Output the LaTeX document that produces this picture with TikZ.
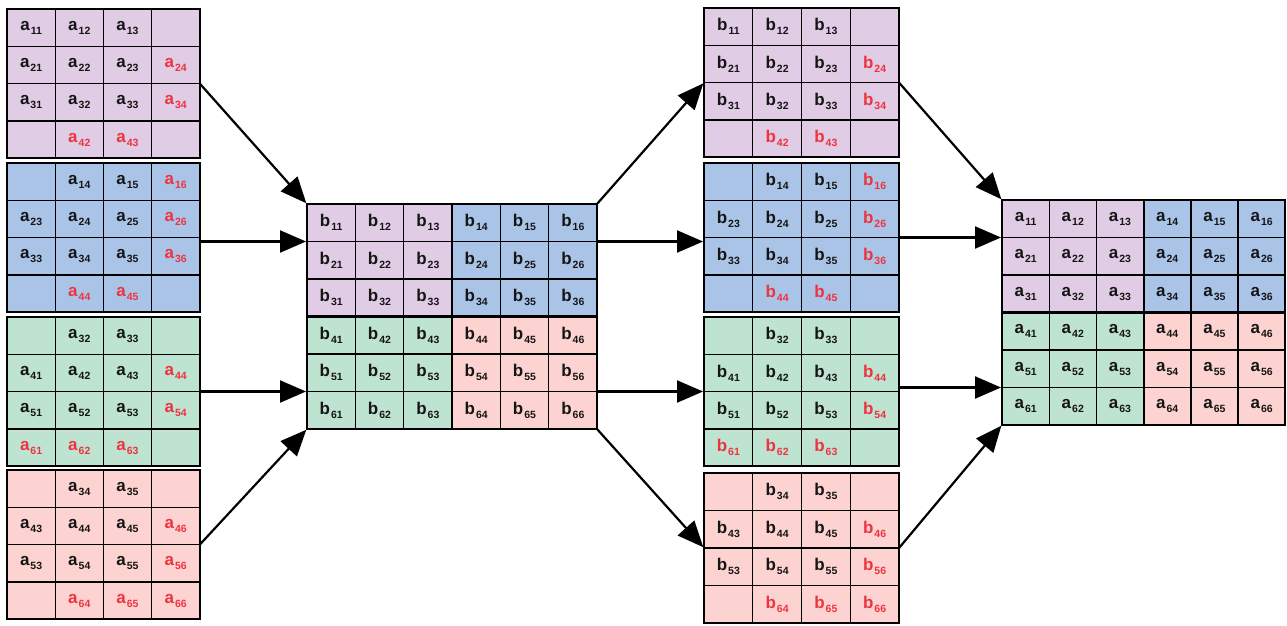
\documentclass[tikz,border=0pt]{standalone}
\usepackage{fontspec}
\setmainfont{Liberation Sans}
\usetikzlibrary{arrows.meta}
\definecolor{cP}{HTML}{E0CCE4}
\definecolor{cB}{HTML}{AAC4E8}
\definecolor{cG}{HTML}{BEE3D0}
\definecolor{cR}{HTML}{FDD3D1}
\definecolor{k}{HTML}{151515}
\definecolor{r}{HTML}{EE3340}
\def\myempt{e}
\newcommand\mylab[3]{\edef\tmpc{#1}\ifx\tmpc\myempt\else\textcolor{#1}{\fontsize{17}{17}\selectfont\bfseries #2\hspace{1pt}\raisebox{-4pt}{\fontsize{10.5}{10.5}\selectfont #3}}\fi}
\tikzset{
  cell/.style={draw=black, line width=1.4pt, inner sep=0pt, outer sep=0pt, anchor=north west},
  frame/.style={draw=black, line width=2.2pt},
  arr/.style={line width=2.2pt, -{Triangle[length=26pt,width=22pt]}, shorten >=1pt}
}
% name, x0, y0, w, h, fill, list
\newcommand\smallgrid[7]{%
  \foreach \t/\l/\s [count=\i from 0] in {#7} {%
    \pgfmathtruncatemacro\r{floor(\i/4)}%
    \pgfmathtruncatemacro\c{\i-4*\r}%
    \node[cell, fill=#6, minimum width=#4pt, minimum height=#5pt] (#1-\r-\c) at ({#2+\c*#4},{#3+\r*#5}) {\mylab{\t}{\l}{\s}};
  }
  \draw[frame] (#1-0-0.north west) rectangle (#1-3-3.south east);
}
% name, x0, y0, w, h, letter
\newcommand\biggrid[6]{%
  \foreach \r in {0,...,5} {\foreach \c in {0,...,5} {%
    \ifnum\r<3 \ifnum\c<3 \def\ff{cP}\else\def\ff{cB}\fi\else\ifnum\c<3 \def\ff{cG}\else\def\ff{cR}\fi\fi
    \pgfmathtruncatemacro\rr{\r+1}%
    \pgfmathtruncatemacro\cc{\c+1}%
    \node[cell, fill=\ff, minimum width=#4pt, minimum height=#5pt] (#1-\r-\c) at ({#2+\c*#4},{#3+\r*#5}) {\mylab{k}{#6}{\rr\cc}};
  }}
  \draw[frame] (#1-0-0.north west) rectangle (#1-5-5.south east);
  \draw[frame] (#1-0-2.north east) -- (#1-5-2.south east);
  \draw[frame] (#1-2-0.south west) -- (#1-2-5.south east);
}
\begin{document}
\begin{tikzpicture}[x=1pt,y=-1pt]
\fill[white] (0,0) rectangle (1287,626);
\useasboundingbox (0,0) rectangle (1287,626);
% left column
\smallgrid{L1}{7}{9}{48.2}{37.3}{cP}{k/a/11,k/a/12,k/a/13,e/a/0, k/a/21,k/a/22,k/a/23,r/a/24, k/a/31,k/a/32,k/a/33,r/a/34, e/a/0,r/a/42,r/a/43,e/a/0}
\smallgrid{L2}{7}{163}{48.2}{37.3}{cB}{e/a/0,k/a/14,k/a/15,r/a/16, k/a/23,k/a/24,k/a/25,r/a/26, k/a/33,k/a/34,k/a/35,r/a/36, e/a/0,r/a/44,r/a/45,e/a/0}
\smallgrid{L3}{7}{317}{48.2}{37.3}{cG}{e/a/0,k/a/32,k/a/33,e/a/0, k/a/41,k/a/42,k/a/43,r/a/44, k/a/51,k/a/52,k/a/53,r/a/54, r/a/61,r/a/62,r/a/63,e/a/0}
\smallgrid{L4}{7}{470}{48.2}{37.3}{cR}{e/a/0,k/a/34,k/a/35,e/a/0, k/a/43,k/a/44,k/a/45,r/a/46, k/a/53,k/a/54,k/a/55,r/a/56, e/a/0,r/a/64,r/a/65,r/a/66}
% middle
\biggrid{M}{307}{204}{48.33}{37.5}{b}
% right-middle column
\smallgrid{R1}{704}{8}{48.75}{37.3}{cP}{k/b/11,k/b/12,k/b/13,e/b/0, k/b/21,k/b/22,k/b/23,r/b/24, k/b/31,k/b/32,k/b/33,r/b/34, e/b/0,r/b/42,r/b/43,e/b/0}
\smallgrid{R2}{704}{163}{48.75}{37.3}{cB}{e/b/0,k/b/14,k/b/15,r/b/16, k/b/23,k/b/24,k/b/25,r/b/26, k/b/33,k/b/34,k/b/35,r/b/36, e/b/0,r/b/44,r/b/45,e/b/0}
\smallgrid{R3}{704}{317}{48.75}{37.3}{cG}{e/b/0,k/b/32,k/b/33,e/b/0, k/b/41,k/b/42,k/b/43,r/b/44, k/b/51,k/b/52,k/b/53,r/b/54, r/b/61,r/b/62,r/b/63,e/b/0}
\smallgrid{R4}{704}{473}{48.75}{37.5}{cR}{e/b/0,k/b/34,k/b/35,e/b/0, k/b/43,k/b/44,k/b/45,r/b/46, k/b/53,k/b/54,k/b/55,r/b/56, e/b/0,r/b/64,r/b/65,r/b/66}
% final
\biggrid{F}{1002}{200}{47.2}{37.5}{a}
% arrows
\draw[arr] (L1-1-3.south east) -- (M-0-0.north west);
\draw[arr] (M-0-0.south west -| L2-1-3.east) -- (M-0-0.south west);
\draw[arr] (M-4-0.south west -| L3-1-3.east) -- (M-4-0.south west);
\draw[arr] (L4-1-3.south east) -- (M-5-0.south west);
\draw[arr] (M-0-5.north east) -- (R1-1-0.south west);
\draw[arr] (M-0-5.south east) -- (M-0-5.south east -| R2-1-0.west);
\draw[arr] (M-4-5.south east) -- (M-4-5.south east -| R3-1-0.west);
\draw[arr] (M-5-5.south east) -- (R4-1-0.south west);
\draw[arr] (R1-1-3.south east) -- (F-0-0.north west);
\draw[arr] (F-0-0.south west -| R2-1-3.east) -- (F-0-0.south west);
\draw[arr] (F-4-0.south west -| R3-1-3.east) -- (F-4-0.south west);
\draw[arr] (R4-1-3.south east) -- (F-5-0.south west);
\end{tikzpicture}
\end{document}
